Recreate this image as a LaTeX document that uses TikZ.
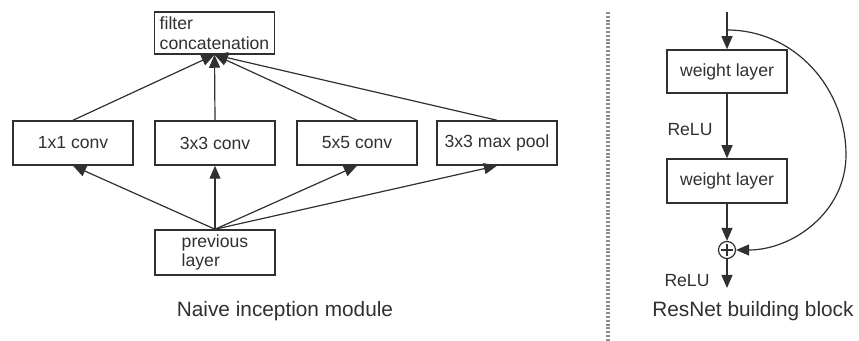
\documentclass[tikz,border=0pt]{standalone}
\usepackage{fontspec}
\setmainfont{Liberation Sans}
\usetikzlibrary{arrows.meta}
\definecolor{ink}{HTML}{303030}
\definecolor{divider}{HTML}{8C8C8C}
\begin{document}
\begin{tikzpicture}[x=0.5pt,y=-0.5pt,
  every node/.style={font=\fontsize{8.8}{9.8}\selectfont, text=ink},
  box/.style={draw=ink, line width=0.75pt, minimum width=60pt, minimum height=22pt, inner sep=0pt, align=left},
  conn/.style={draw=ink, line width=0.6pt},
  arr/.style={conn, -{Triangle[length=6.5pt,width=5.5pt]}},
  caption/.style={font=\fontsize{10.4}{12}\selectfont},
  plus/.style={draw=ink, line width=0.6pt, circle, minimum size=8.5pt, inner sep=0pt},
  lbl/.style={inner sep=0pt}
]
\useasboundingbox (0,0) rectangle (859,341);
% Naive inception module
\node[box, minimum height=21pt] (concat) at (214.5,33) {filter\\concatenation};
\node[box] (c1) at (73,143) {1x1 conv};
\node[box] (c3) at (215,143) {3x3 conv};
\node[box] (c5) at (357,143) {5x5 conv};
\node[box] (mp) at (497,143) {3x3 max pool};
\node[box, minimum height=22.5pt] (prev) at (215,252.5) {previous\\layer};
\foreach \b in {c1,c3,c5,mp} {
  \draw[arr] (\b.north) -- (concat.south);
  \draw[arr] (prev.north) -- (\b.south);
}
\node[caption] (cap1) at (285,311) {Naive inception module};
% divider
\coordinate (dtop) at (608,12);
\coordinate (dbot) at (608,341);
\draw[divider, line width=1.6pt, dash pattern=on 1pt off 0.9pt] (dtop) -- (dbot);
% ResNet building block
\coordinate (xin) at (727,12);
\coordinate (split) at (727,30);
\coordinate (skipmid) at (846,155);
\coordinate (xout) at (727,288);
\node[box, minimum height=21.5pt] (w1) at (727,71.5) {weight layer};
\node[box] (w2) at (727,181) {weight layer};
\node[plus] (sum) at (727,250) {};
\draw[ink, line width=0.6pt] ([xshift=-2.8pt]sum.center) -- ([xshift=2.8pt]sum.center)
  ([yshift=-2.8pt]sum.center) -- ([yshift=2.8pt]sum.center);
\draw[arr] (xin) -- (w1.north);
\draw[arr] (w1.south) -- (w2.north);
\draw[arr] (w2.south) -- (sum.north);
\draw[arr] (sum.south) -- (xout);
\draw[arr] (split) to[out=0,in=90] (skipmid) to[out=-90,in=0] (sum.east);
\node[lbl] (relu1) at (690,130) {ReLU};
\node[lbl] (relu2) at (687,281) {ReLU};
\node[caption] (cap2) at (753,311) {ResNet building block};
\end{tikzpicture}
\end{document}
